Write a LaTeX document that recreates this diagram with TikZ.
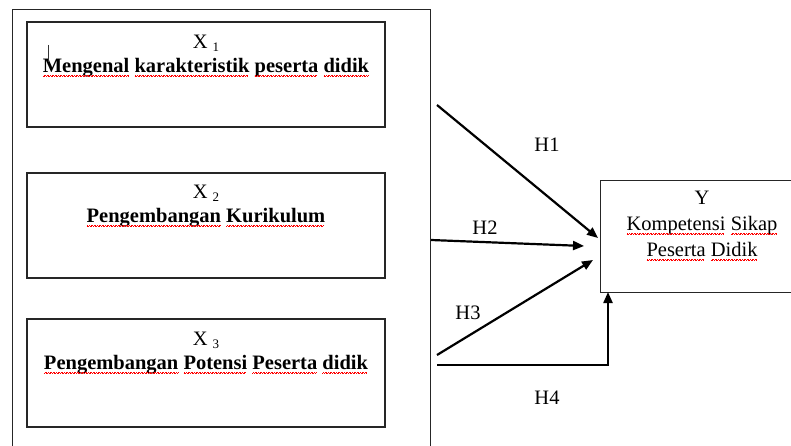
\documentclass[tikz,border=0pt]{standalone}
\usepackage{fontspec}
\setmainfont{Liberation Serif}
\usetikzlibrary{arrows.meta}
\newsavebox{\sqbox}
\newcommand\sq[1]{\leavevmode\sbox{\sqbox}{#1}\rlap{\usebox{\sqbox}}\raisebox{-4.2pt}{\hbox to\wd\sqbox{\color{red}\leaders\hbox{\rule[0pt]{0.8pt}{0.6pt}\rule[0.8pt]{0.8pt}{0.6pt}}\hfill}}}
\newcommand\xsub[1]{X\hspace{5pt}\raisebox{-0.3ex}{\fontsize{13}{13}\selectfont #1}}
\tikzset{
  box/.style={draw=black!85, line width=1.3pt, rectangle, inner sep=0pt},
  lbl/.style={align=center, font=\fontsize{20.5}{24}\selectfont, inner sep=0pt},
  hlbl/.style={font=\fontsize{20.5}{24}\selectfont, inner sep=0pt},
  arr/.style={draw=black, line width=2.2pt, -{Triangle[length=11pt,width=9pt]}},
}
\begin{document}
\begin{tikzpicture}[x=1pt,y=-1pt]
\useasboundingbox (0,0) rectangle (791,446);
\fill[white] (0,0) rectangle (791,446);
\clip (0,0) rectangle (791,446);
% outer frame
\node[box, minimum width=418pt, minimum height=460pt, anchor=north west] (outer) at (12,9) {};
% X boxes
\node[box, minimum width=358pt, minimum height=105pt] (x1) at (206,74.5) {};
\node[box, minimum width=358pt, minimum height=105pt] (x2) at (206,225.5) {};
\node[box, minimum width=358pt, minimum height=108pt] (x3) at (206,373) {};
\node[lbl] (t1) at (206,56) {\xsub{1}\\\textbf{\sq{Mengenal} \sq{karakteristik} \sq{peserta} \sq{didik}}};
\node[lbl] (t2) at (206,206) {\xsub{2}\\\textbf{\sq{Pengembangan} \sq{Kurikulum}}};
\node[lbl] (t3) at (206,353) {\xsub{3}\\\textbf{\sq{Pengembangan} \sq{Potensi} \sq{Peserta} \sq{didik}}};
% cursor mark
\draw[black!80, line width=0.8pt] (48,45) -- (48,62);
% Y box
\node[box, minimum width=210pt, minimum height=112pt, anchor=north west] (y) at (600,180) {};
\node[lbl, font=\fontsize{20.5}{26}\selectfont] (ty) at (702,226) {Y\\\sq{Kompetensi} \sq{Sikap}\\\sq{Peserta} \sq{Didik}};
% connector endpoints
\coordinate (s1) at (437,105);
\coordinate (e1) at (598,238);
\coordinate (s2) at (431,240);
\coordinate (e2) at (584,246);
\coordinate (s3) at (437,355);
\coordinate (e3) at (593,260);
\coordinate (s4) at (437,365);
\coordinate (c4) at (608,365);
\coordinate (e4) at (608,292);
\draw[arr] (s1) -- (e1);
\draw[arr] (s2) -- (e2);
\draw[arr] (s3) -- (e3);
\draw[arr] (s4) -- (c4) -- (e4);
% labels
\node[hlbl] (h1) at (547,145) {H1};
\node[hlbl] (h2) at (485,228) {H2};
\node[hlbl] (h3) at (468,313) {H3};
\node[hlbl] (h4) at (547,398) {H4};
\end{tikzpicture}
\end{document}
